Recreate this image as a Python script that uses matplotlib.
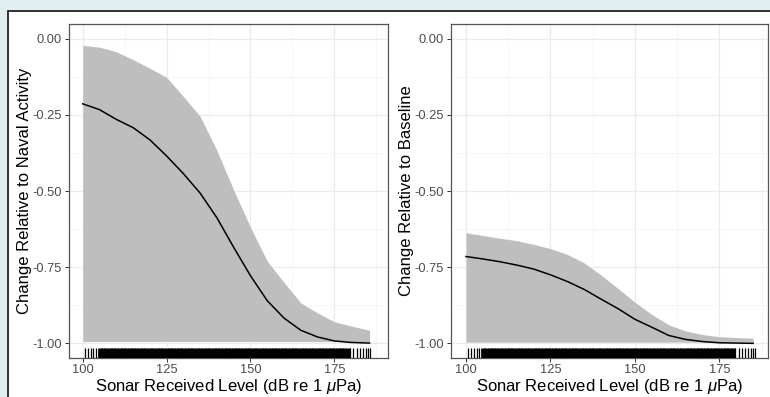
import matplotlib
matplotlib.use("Agg")
import matplotlib.pyplot as plt
from matplotlib.patches import Rectangle
import matplotlib.transforms as mtransforms

plt.rcParams['font.family'] = ['Liberation Sans', 'DejaVu Sans']
plt.rcParams['mathtext.fontset'] = 'custom'
plt.rcParams['mathtext.it'] = 'Liberation Sans:italic'
plt.rcParams['mathtext.rm'] = 'Liberation Sans'

# ---------------- data ----------------
level_naval = [100, 105, 110, 115, 120, 125, 130, 135, 140, 145, 150, 155, 160, 165, 170, 175, 180, 185.5]
naval_mean = [-0.214, -0.233, -0.265, -0.292, -0.332, -0.385, -0.443, -0.507, -0.588, -0.685,
              -0.778, -0.860, -0.917, -0.957, -0.979, -0.992, -0.997, -0.999]
naval_upper = [-0.022, -0.028, -0.043, -0.069, -0.097, -0.127, -0.190, -0.255, -0.367, -0.497,
               -0.619, -0.730, -0.800, -0.867, -0.900, -0.929, -0.943, -0.957]
naval_lower = [-0.994] * len(level_naval)

level_base = [100, 105, 110, 115, 120, 125, 130, 135, 140, 145, 150, 155, 160, 165, 170, 175, 180, 185]
base_mean = [-0.715, -0.723, -0.732, -0.743, -0.756, -0.775, -0.797, -0.823, -0.855, -0.886,
             -0.921, -0.947, -0.974, -0.987, -0.994, -0.998, -0.999, -1.000]
base_upper = [-0.637, -0.646, -0.655, -0.663, -0.675, -0.689, -0.708, -0.736, -0.776, -0.820,
              -0.865, -0.905, -0.939, -0.959, -0.971, -0.978, -0.981, -0.983]
base_lower = [-0.996] * len(level_base)

# observed received levels (rug)
rug_sparse = [100.7, 101.5, 102.5, 103.2, 103.9,
              179.7, 180.7, 181.7, 182.6, 183.5, 184.3, 185.0, 185.5]
rug_dense = [105, 106, 107, 108, 109, 110, 111, 112, 113, 114, 115, 116, 117, 118, 119,
             120, 121, 122, 123, 124, 125, 126, 127, 128, 129, 130, 131, 132, 133, 134,
             135, 136, 137, 138, 139, 140, 141, 142, 143, 144, 145, 146, 147, 148, 149,
             150, 151, 152, 153, 154, 155, 156, 157, 158, 159, 160, 161, 162, 163, 164,
             165, 166, 167, 168, 169, 170, 171, 172, 173, 174, 175, 176, 177, 178, 179]

x_ticks = [100, 125, 150, 175]
x_ticklabels = ['100', '125', '150', '175']
y_ticks = [0.0, -0.25, -0.5, -0.75, -1.0]
y_ticklabels = ['0.00', '-0.25', '-0.50', '-0.75', '-1.00']
x_minor = [112.5, 137.5, 162.5, 187.5]
y_minor = [-0.125, -0.375, -0.625, -0.875]

y_titles = ['Change Relative to Naval Activity', 'Change Relative to Baseline']
x_title = r'Sonar Received Level (dB re 1 $\mu$Pa)'

# ---------------- figure ----------------
W, H = 770, 397
fig = plt.figure(figsize=(W / 100, H / 100), dpi=100)
fig.patch.set_facecolor('#e1eef0')

# white framed panel
fig.patches.append(Rectangle((7.5 / W, -0.1), 1.2, (H - 10.7) / H + 0.1,
                             transform=fig.transFigure, facecolor='white',
                             edgecolor='#222222', linewidth=1.3, zorder=-5))

def px_axes(l, r, t, b):
    return [l / W, (H - b) / H, (r - l) / W, (b - t) / H]

panels = [
    dict(rect=px_axes(69, 388, 24, 358), xlim=(95.9, 191.0), x=level_naval,
         mean=naval_mean, up=naval_upper, lo=naval_lower, ylab=y_titles[0], ylab_x=25),
    dict(rect=px_axes(451, 768, 24, 358), xlim=(95.56, 189.4), x=level_base,
         mean=base_mean, up=base_upper, lo=base_lower, ylab=y_titles[1], ylab_x=406.5),
]

for p in panels:
    ax = fig.add_axes(p['rect'])
    ax.set_zorder(2)
    ax.set_facecolor('white')
    ax.set_xlim(*p['xlim'])
    ax.set_ylim(-1.048, 0.048)

    ax.set_xticks(x_ticks)
    ax.set_xticklabels(x_ticklabels)
    ax.set_yticks(y_ticks)
    ax.set_yticklabels(y_ticklabels)
    ax.set_xticks(x_minor, minor=True)
    ax.set_yticks(y_minor, minor=True)
    ax.grid(True, which='major', color='#ebebeb', linewidth=0.9, zorder=0)
    ax.grid(True, which='minor', color='#f3f3f3', linewidth=0.5, zorder=0)
    ax.set_axisbelow(True)
    ax.tick_params(which='minor', length=0)
    ax.tick_params(which='major', length=3.0, width=0.7, color='#333333',
                   labelcolor='#4d4d4d', labelsize=9.3)
    ax.tick_params(axis='x', pad=1.5)
    ax.tick_params(axis='y', pad=2.0)
    for s in ax.spines.values():
        s.set_color('#555555')
        s.set_linewidth(0.9)

    ax.fill_between(p['x'], p['lo'], p['up'], color='#bebebe', linewidth=0, zorder=2)
    ax.plot(p['x'], p['mean'], color='black', linewidth=1.1, zorder=3)

    trans = mtransforms.blended_transform_factory(ax.transData, ax.transAxes)
    ax.vlines(rug_sparse, 0, 0.03, transform=trans, color='black', linewidth=0.9, zorder=3)
    ax.vlines(rug_dense, 0, 0.03, transform=trans, color='black', linewidth=3.4, zorder=3)

    fig.text(p['ylab_x'] / W, 1 - 191 / H, p['ylab'], rotation=90, ha='center',
             va='center', fontsize=12, color='black', zorder=3)
    cx = (p['rect'][0] + p['rect'][2] / 2)
    fig.text(cx, 1 - 386.5 / H, x_title, ha='center', va='center', fontsize=12,
             color='black', zorder=3)

fig.savefig('out.png', dpi=100, facecolor=fig.get_facecolor())
